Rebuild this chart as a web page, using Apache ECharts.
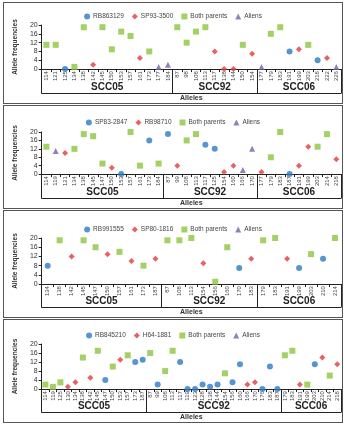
<!DOCTYPE html>
<html>
<head>
<meta charset="utf-8">
<script src="https://cdn.jsdelivr.net/npm/echarts@6/dist/echarts.min.js"></script>
<style>
body{margin:0;background:#fff;width:344px;height:425px;position:relative;overflow:hidden;}
.panel{position:absolute;left:3px;width:338px;border:1px solid #555;}
</style>
</head>
<body>
<div id="p1" class="panel" style="top:2px;height:100px"></div>
<div id="p2" class="panel" style="top:105px;height:102px"></div>
<div id="p3" class="panel" style="top:210px;height:106px"></div>
<div id="p4" class="panel" style="top:319px;height:102px"></div>
<script>
var groupNames = ['SCC05', 'SCC92', 'SCC06'];

// source codes: 0 = first parent, 1 = second parent, 2 = both parents, 3 = aliens
var parentsA = ['RB863129', 'SP93-3500'];
var allelesA = ['114','121','125','134','138','142','145','150','153','157','161','173','177','184',
                '87','98','108','113','117','138','144','150','154',
                '177','179','183','191','199','203','218','222','226'];
var freqA   = [11,11,0,1,19,2,19,9,17,15,5,8,1,2, 19,12,17,19,8,0,0,11,7, 1,16,19,8,9,11,4,5,1];
var sourceA = [2,2,0,2,2,1,2,2,2,2,1,2,3,3, 2,2,2,2,1,1,1,2,1, 3,2,2,0,1,2,0,1,3];
var groupSizeA = [14, 9, 9];

var parentsB = ['SP83-2847', 'RB98710'];
var allelesB = ['114','119','121','134','138','145','147','150','153','157','161','173','184',
                '87','99','108','113','117','125','154','160','166','170',
                '177','179','183','187','191','199','203','214','218'];
var freqB   = [13,11,10,12,19,18,5,3,0,20,4,16,5, 19,4,16,19,14,12,1,4,2,12, 1,8,20,0,4,13,13,19,7];
var sourceB = [2,3,1,2,2,2,2,1,0,2,2,0,2, 0,1,2,2,0,0,1,1,3,3, 1,2,2,0,1,1,2,2,1];
var groupSizeB = [13, 10, 9];

var parentsC = ['RB991555', 'SP80-1816'];
var allelesC = ['134','138','142','145','147','150','157','161','173','187',
                '87','108','113','154','156','160','170','183',
                '179','183','191','199','203','210','214'];
var freqC   = [8,19,12,19,16,13,14,10,8,11, 19,19,20,9,1,16,7,11, 19,20,11,7,13,11,20];
var sourceC = [0,2,1,2,2,1,2,1,2,1, 2,2,2,1,2,2,0,1, 2,2,1,0,2,0,2];
var groupSizeC = [10, 8, 7];

var parentsD = ['RB845210', 'H64-1881'];
var allelesD = ['114','119','125','130','134','138','142','145','147','150','153','157','173','187',
                '87','99','108','113','117','119','123','128','138','144','154','156','160','166','170','176','183','187',
                '179','183','191','199','203','210','214','218'];
var freqD   = [2,1,3,1,3,14,5,17,4,10,13,15,12,13,
               16,2,8,17,12,0,0,2,1,2,7,3,11,2,3,0,10,0,
               15,17,2,2,11,14,6,11];
var sourceD = [2,2,2,1,1,2,1,2,0,2,1,2,0,0,
               2,0,2,2,0,0,0,0,0,0,2,0,0,1,1,0,0,0,
               2,2,1,2,0,1,2,1];
var groupSizeD = [14, 18, 8];

var seriesColors  = ['#2C7BC6', '#E3393B', '#8CC63F', '#7B5FA7'];
var seriesSymbols = ['circle', 'diamond', 'rect', 'triangle'];
var seriesSizes   = [6, 6, 6, 6];

function makeOption(alleles, freq, source, groupSize, parents, lay) {
    var names = [parents[0], parents[1], 'Both parents', 'Aliens'];
    var n = alleles.length;
    var bounds = [0], centers = [], acc = 0;
    groupSize.forEach(function (g) {
        centers.push(acc + g / 2);
        acc += g;
        bounds.push(acc);
    });
    var series = names.map(function (nm, k) {
        var pts = [];
        freq.forEach(function (v, i) {
            if (source[i] === k) pts.push([i, v]);
        });
        return {
            name: nm,
            type: 'scatter',
            symbol: seriesSymbols[k],
            symbolSize: seriesSizes[k],
            itemStyle: { color: seriesColors[k] },
            data: pts
        };
    });
    return {
        animation: false,
        textStyle: { fontFamily: 'Liberation Sans', color: '#333' },
        legend: {
            data: names,
            top: lay.legendTop,
            left: 'center',
            itemWidth: 6,
            itemHeight: 6,
            itemGap: 8,
            textStyle: { fontSize: 6.5, color: '#444', padding: [0, 0, 0, -2] }
        },
        grid: { left: 29, right: 1, top: lay.top, height: 47 },
        xAxis: [
            {
                type: 'category',
                data: alleles,
                boundaryGap: true,
                axisLine: { lineStyle: { color: '#222', width: 1 } },
                axisTick: { show: true, length: 3, lineStyle: { color: '#222' } },
                axisLabel: { interval: 0, rotate: 90, fontSize: 6, margin: 2, color: '#444' },
                splitLine: { show: false }
            },
            {
                type: 'value',
                min: 0,
                max: n,
                position: 'bottom',
                offset: lay.offset,
                name: 'Alleles',
                nameLocation: 'middle',
                nameGap: 1,
                nameTextStyle: { fontSize: 7, fontWeight: 'bold', color: '#333', verticalAlign: 'top' },
                axisLine: { show: true, lineStyle: { color: '#222', width: 1.2 } },
                axisTick: { show: true, inside: true, length: lay.offset, customValues: bounds,
                            lineStyle: { color: '#222', width: 1 } },
                axisLabel: {
                    inside: true,
                    margin: 1,
                    customValues: centers,
                    fontSize: 10,
                    fontWeight: 'bold',
                    color: '#222',
                    formatter: function (v) {
                        var idx = centers.indexOf(v);
                        return idx >= 0 ? groupNames[idx] : '';
                    }
                },
                splitLine: { show: false }
            }
        ],
        yAxis: {
            type: 'value',
            min: 0,
            max: 20,
            interval: 4,
            name: 'Allele frequencies',
            nameLocation: 'middle',
            nameGap: 18,
            nameTextStyle: { fontSize: 6.5, fontWeight: 'bold', color: '#333' },
            axisLine: { show: true, lineStyle: { color: '#222', width: 1 } },
            axisTick: { show: true, length: 3, lineStyle: { color: '#222' } },
            axisLabel: { fontSize: 7, margin: 4, color: '#333' },
            splitLine: { show: false }
        },
        series: series
    };
}

var layouts = [
    { legendTop: 5, top: 22, offset: 24 },
    { legendTop: 8, top: 26, offset: 24 },
    { legendTop: 10, top: 27, offset: 23 },
    { legendTop: 7, top: 24, offset: 23 }
];

var chart1 = echarts.init(document.getElementById('p1'));
var chart2 = echarts.init(document.getElementById('p2'));
var chart3 = echarts.init(document.getElementById('p3'));
var chart4 = echarts.init(document.getElementById('p4'));
chart1.setOption(makeOption(allelesA, freqA, sourceA, groupSizeA, parentsA, layouts[0]));
chart2.setOption(makeOption(allelesB, freqB, sourceB, groupSizeB, parentsB, layouts[1]));
chart3.setOption(makeOption(allelesC, freqC, sourceC, groupSizeC, parentsC, layouts[2]));
chart4.setOption(makeOption(allelesD, freqD, sourceD, groupSizeD, parentsD, layouts[3]));
</script>
</body>
</html>
